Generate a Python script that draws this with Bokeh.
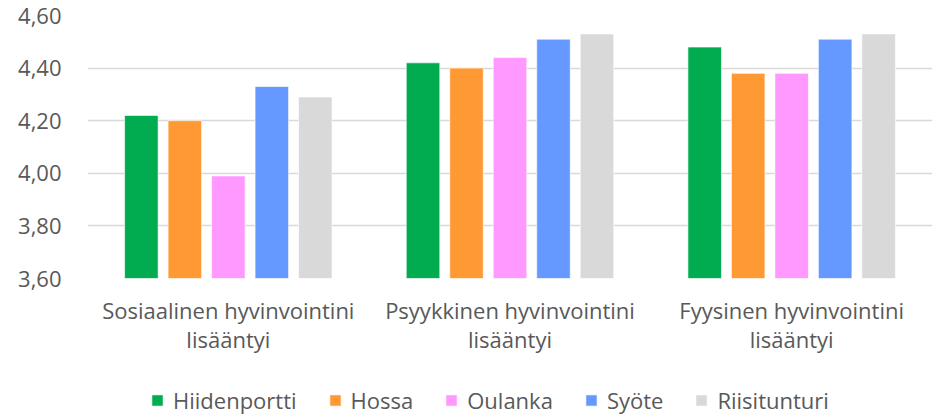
from bokeh.plotting import figure
from bokeh.layouts import column
from bokeh.models import FactorRange, FixedTicker, CustomJSTickFormatter, Legend, LegendItem, ColumnDataSource
from bokeh.transform import dodge
from bokeh.embed import file_html
from bokeh.resources import INLINE

categories = ["Sosiaalinen hyvinvointini\nlisääntyi",
              "Psyykkinen hyvinvointini\nlisääntyi",
              "Fyysinen hyvinvointini\nlisääntyi"]
series = ["Hiidenportti", "Hossa", "Oulanka", "Syöte", "Riisitunturi"]
hiidenportti = [4.22, 4.42, 4.48]
hossa = [4.20, 4.40, 4.38]
oulanka = [3.99, 4.44, 4.38]
syote = [4.33, 4.51, 4.51]
riisitunturi = [4.29, 4.53, 4.53]
colors = ["#00AC4F", "#FF9933", "#FF99FF", "#6699FF", "#D9D9D9"]
y_ticks = [3.6, 3.8, 4.0, 4.2, 4.4, 4.6]

source = ColumnDataSource(dict(cat=categories, Hiidenportti=hiidenportti, Hossa=hossa,
                               Oulanka=oulanka, Syote=syote, Riisitunturi=riisitunturi))
keys = ["Hiidenportti", "Hossa", "Oulanka", "Syote", "Riisitunturi"]

FONT = "Open Sans"
TXT = "#595959"
FS = "22px"

p = figure(x_range=FactorRange(*categories, range_padding=0, factor_padding=0),
           y_range=(3.6, 4.6), frame_width=845, frame_height=263,
           output_backend="svg", toolbar_location=None,
           min_border_left=87, min_border_right=4, min_border_top=15, min_border_bottom=84)
p.outline_line_color = None
p.background_fill_color = "white"
p.border_fill_color = "white"

step = 0.1544
width = 0.119
for i, (k, c) in enumerate(zip(keys, colors)):
    p.vbar(x=dodge("cat", (i - 2) * step, range=p.x_range), top=k, bottom=3.6,
           width=width, source=source, fill_color=c, line_color="white", line_width=1,
           line_alpha=0.6)

p.xgrid.grid_line_color = None
p.ygrid.grid_line_color = "#D9D9D9"
p.ygrid.grid_line_width = 1.6
p.yaxis.ticker = FixedTicker(ticks=y_ticks)
p.yaxis.formatter = CustomJSTickFormatter(code="return tick.toFixed(2).replace('.', ',');")

for ax in (p.xaxis[0], p.yaxis[0]):
    ax.axis_line_color = None
    ax.major_tick_line_color = None
    ax.minor_tick_line_color = None
    ax.major_tick_out = 0
    ax.major_tick_in = 0
    ax.major_label_text_font = FONT
    ax.major_label_text_font_size = FS
    ax.major_label_text_color = TXT
p.yaxis.major_label_standoff = 26
p.xaxis.major_label_standoff = 16
p.xaxis.major_label_text_line_height = 0.98

# legend strip below the chart
lg = figure(x_range=(0, 1), y_range=(0, 1), width=936, height=53,
            output_backend="svg", toolbar_location=None,
            min_border_left=0, min_border_right=0, min_border_top=0, min_border_bottom=0)
lg.axis.visible = False
lg.grid.visible = False
lg.outline_line_color = None
items = []
for name, c in zip(series, colors):
    r = lg.vbar(x=[-5], top=[-5], bottom=[-6], width=0.1, fill_color=c,
                line_color="white", line_width=1, line_alpha=0.6)
    items.append(LegendItem(label=name, renderers=[r]))
legend = Legend(items=items, orientation="horizontal", location=(63, 0),
                label_text_font=FONT, label_text_font_size=FS, label_text_color=TXT,
                glyph_width=14, glyph_height=14, label_standoff=9, spacing=31,
                padding=0, margin=0, border_line_color=None, background_fill_alpha=0)
lg.add_layout(legend)

layout = column(p, lg, spacing=0)
open("out.html", "w").write(file_html(layout, INLINE))
